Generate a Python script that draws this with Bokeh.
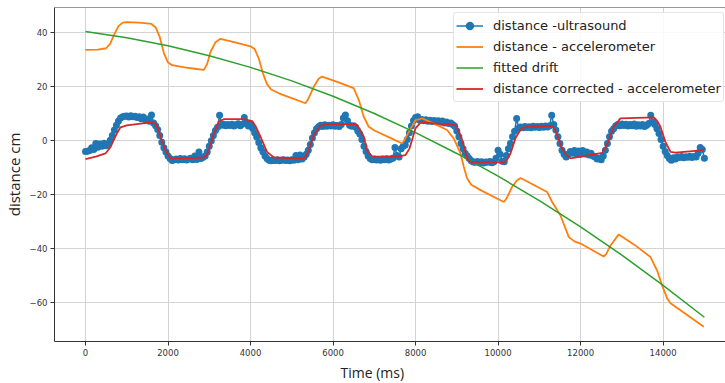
from bokeh.plotting import figure
from bokeh.models import Range1d, FixedTicker, Legend, LegendItem, Span, Title
from bokeh.embed import file_html
from bokeh.resources import INLINE

# ---------------- data ----------------
# ultrasound distance sampled every 50 ms
us_time = list(range(0, 15001, 50))
us_dist = [
    -4.0, -3.9, -3.6, -2.6, -3.2, -1.0, -2.4, -1.2, -2.0, -0.9, -1.8, -1.2, 0.2, 2.0, 4.0, 5.8,
    7.3, 8.4, 8.9, 9.1, 9.2, 8.8, 9.3, 8.9, 9.1, 8.6, 8.9, 8.2, 8.8, 7.8, 8.1, 7.2,
    9.6, 6.6, 5.6, 4.2, 2.0, -0.5, -2.6, -4.2, -5.6, -6.6, -7.3, -7.0, -6.8, -7.1, -6.6, -7.0,
    -6.7, -7.1, -6.8, -6.5, -7.0, -5.6, -6.9, -4.2, -6.6, -6.1, -5.6, -4.2, -2.0, 0.0, 2.0, 3.8,
    5.0, 9.5, 5.8, 6.1, 5.6, 6.0, 5.7, 6.1, 5.5, 5.9, 6.3, 5.6, 6.1, 8.6, 6.6, 5.5,
    6.1, 4.6, 3.0, 1.4, -0.6, -2.6, -4.1, -5.6, -6.6, -7.2, -7.4, -7.1, -7.3, -7.0, -7.4, -7.2,
    -7.0, -7.3, -7.1, -7.4, -7.0, -7.2, -5.5, -7.0, -5.3, -6.8, -6.0, -5.0, -3.5, -1.4, 1.0, 3.0,
    4.5, 5.2, 5.8, 5.3, 5.9, 5.4, 5.8, 5.5, 5.9, 5.4, 5.7, 5.3, 6.0, 8.4, 9.6, 7.4,
    5.8, 5.4, 5.6, 5.0, 3.6, 2.5, 0.5, -2.0, -4.0, -5.6, -6.6, -7.0, -6.8, -7.1, -6.9, -7.2,
    -6.8, -7.0, -6.7, -7.1, -6.8, -6.5, -2.5, -5.5, -6.0, -3.0, -2.0, -1.6, 0.5, 3.0, 5.5, 7.5,
    8.6, 8.9, 7.6, 7.9, 7.4, 7.8, 7.2, 7.6, 7.1, 7.5, 7.0, 7.4, 6.9, 7.3, 6.6, 7.0,
    6.4, 6.6, 6.0, 5.4, 3.6, 1.5, -1.0, -3.0, -4.6, -5.6, -6.6, -7.4, -7.9, -8.0, -7.7, -8.1,
    -7.8, -8.2, -7.9, -8.0, -7.7, -8.1, -7.8, -6.5, -3.5, -5.0, -7.6, -7.8, -5.5, -3.0, -1.0, 1.5,
    3.5, 8.3, 4.6, 5.1, 4.8, 5.3, 4.9, 5.2, 4.8, 5.4, 5.0, 5.3, 4.9, 5.4, 5.0, 5.5,
    5.1, 5.6, 9.5, 6.0, 4.0, 1.5, -1.0, -3.5, -5.0, -6.0, -5.0, -4.0, -4.6, -3.6, -4.8, -3.8,
    -5.0, -3.6, -4.9, -4.2, -5.3, -4.6, -5.6, -6.0, -6.8, -6.5, -7.0, -5.6, -3.5, -1.0, 1.5, 3.5,
    4.5, 5.5, 6.0, 5.6, 6.2, 5.7, 6.1, 5.5, 6.0, 5.6, 6.2, 5.4, 5.9, 5.5, 6.0, 5.3,
    5.8, 6.4, 9.5, 7.0, 6.0, 4.5, 2.7, 0.5, -2.0, -4.0, -5.5, -6.6, -7.2, -6.3, -6.8, -5.9,
    -6.2, -5.8, -6.3, -5.9, -6.1, -5.7, -6.2, -5.8, -6.0, -4.5, -2.5, -3.2, -6.5,
]

acc_time = [0, 300, 500, 600, 700, 800, 900, 1000, 1300, 1600, 1700, 1800, 1900, 2000, 2100,
            2400, 2700, 2870, 2950, 3030, 3150, 3270, 3600, 4000, 4100, 4200, 4300, 4400,
            4500, 4700, 5000, 5330, 5400, 5535, 5650, 5735, 6100, 6500, 6625, 6745, 6865,
            7000, 7400, 7675, 7720, 7795, 7900, 8000, 8160, 8500, 8765, 8925, 9090, 9170,
            9250, 9350, 9575, 10140, 10200, 10340, 10450, 10545, 11190, 11310, 11510,
            11715, 11850, 12000, 12560, 12620, 12725, 12925, 13300, 13695, 13855, 13975,
            14100, 14180, 14985]
acc_dist = [33.7, 33.8, 34.3, 36.0, 39.5, 42.5, 43.8, 44.0, 43.8, 43.3, 42.0, 38.5, 32.5, 29.0,
            28.0, 27.2, 26.6, 26.3, 28.5, 33.0, 36.5, 37.8, 36.6, 35.0, 34.0, 30.5, 25.0, 21.0,
            19.0, 17.5, 15.8, 13.9, 15.5, 20.1, 23.0, 23.8, 21.8, 19.5, 15.1, 8.9, 5.2,
            3.8, 1.0, -1.0, 0.0, 2.1, 5.0, 7.7, 8.3, 6.0, 4.0, 0.9, -4.7, -9.7,
            -14.0, -16.3, -18.3, -22.7, -21.5, -17.1, -14.8, -13.8, -19.0, -22.7, -27.6,
            -35.7, -37.3, -38.1, -42.9, -42.0, -38.8, -34.7, -38.5, -43.1, -48.1, -53.6,
            -58.5, -60.2, -68.9]

drift_time = [0, 1000, 2000, 3000, 4000, 5000, 6000, 7000, 8000, 9000, 10000, 11000, 12000,
              13000, 14000, 15000]
drift_dist = [40.5, 38.2, 35.2, 31.5, 27.2, 22.2, 16.5, 10.1, 3.0, -4.7, -13.1, -22.2, -31.9,
              -42.4, -53.6, -65.4]

corr_time = [0, 250, 485, 600, 686, 770, 848, 1000, 1535, 1700, 1760, 1820, 1940, 2060, 2500,
             2870, 2930, 2990, 3110, 3230, 3350, 3840, 4040, 4120, 4240, 4400, 4565, 5290,
             5350, 5410, 5530, 5695, 5815, 6545, 6640, 6745, 6825, 6950, 7555, 7755, 7850,
             7915, 7998, 8120, 8240, 8970, 9050, 9130, 9250, 9330, 10140, 10220, 10300,
             10420, 10545, 10665, 11310, 11370, 11430, 11550, 11640, 11755, 12525, 12600,
             12685, 12805, 12965, 13775, 13850, 13935, 14055, 14180, 14300, 14985]
corr_dist = [-6.8, -5.9, -4.7, -2.5, 0.3, 3.0, 5.0, 5.7, 6.7, 6.4, 4.5, 1.5, -3.5, -6.5, -6.4,
             -6.2, -5.5, -3.5, 2.7, 7.1, 8.0, 8.0, 7.3, 5.5, 1.5, -4.1, -6.2, -6.5,
             -5.5, -3.5, 2.1, 5.5, 6.2, 6.2, 4.5, 1.5, -3.5, -5.9, -5.9, -5.3, -3.0,
             0.3, 4.6, 6.7, 6.7, 5.8, 3.5, 0.3, -6.5, -7.8, -8.0, -7.0, -4.7,
             0.9, 4.2, 5.2, 5.5, 4.5, 2.1, -2.8, -5.0, -6.5, -4.5, -2.5,
             0.3, 5.2, 8.3, 8.7, 7.5, 5.2, -0.4, -4.1, -4.4, -3.5]

x_ticks = [0, 2000, 4000, 6000, 8000, 10000, 12000, 14000]
y_ticks = [-60, -40, -20, 0, 20, 40]
legend_labels = ["distance -ultrasound", "distance - accelerometer", "fitted drift",
                 "distance corrected - accelerometer"]

BLUE, ORANGE, GREEN, RED = "#1f77b4", "#ff7f0e", "#2ca02c", "#d62728"
TICK_FONT = "DejaVu Sans"

# ---------------- figure ----------------
p = figure(width=725, height=383, output_backend="svg", toolbar_location=None,
           x_range=Range1d(-751, 15512), y_range=Range1d(-74.4, 49.4),
           min_border_left=54, min_border_right=0, min_border_top=7, min_border_bottom=42)
p.outline_line_color = None
p.background_fill_color = "white"
p.border_fill_color = "white"

for ax in (p.xaxis[0], p.yaxis[0]):
    ax.axis_line_color = "#333333"
    ax.axis_line_width = 1
    ax.major_tick_line_color = "#333333"
    ax.major_tick_out = 4
    ax.major_tick_in = 0
    ax.minor_tick_line_color = None
    ax.major_label_text_font = TICK_FONT
    ax.major_label_text_font_size = "8.5px"
    ax.major_label_text_color = "#333333"
    ax.major_label_standoff = 3

p.xaxis.ticker = FixedTicker(ticks=x_ticks)
p.yaxis.ticker = FixedTicker(ticks=y_ticks)
p.yaxis.major_label_overrides = {v: (str(v).replace("-", "\u2212")) for v in y_ticks}

p.yaxis.axis_label = "distance cm"
p.yaxis.axis_label_text_font = "Open Sans"
p.yaxis.axis_label_text_font_size = "15px"
p.yaxis.axis_label_text_font_style = "normal"
p.yaxis.axis_label_text_color = "#222222"
p.yaxis.axis_label_standoff = 3

p.xgrid.ticker = FixedTicker(ticks=x_ticks)
p.ygrid.ticker = FixedTicker(ticks=y_ticks)
p.grid.grid_line_color = "#d3d3d3"
p.grid.grid_line_width = 1

# top spine
p.add_layout(Span(location=49.4, dimension="width", line_color="#333333", line_width=1))

# ---------------- data glyphs ----------------
us_line = p.line(us_time, us_dist, line_color=BLUE, line_width=1.5)
us_small = p.scatter(us_time, us_dist, size=4.5, fill_color=BLUE, line_color=BLUE, line_width=0)
us_pts = p.scatter(us_time, us_dist, size=7, fill_color=BLUE, line_color=BLUE, line_width=0)
acc_line = p.line(acc_time, acc_dist, line_color=ORANGE, line_width=1.8)
drift_line = p.line(drift_time, drift_dist, line_color=GREEN, line_width=1.5)
corr_line = p.line(corr_time, corr_dist, line_color=RED, line_width=1.8)

legend = Legend(items=[
    LegendItem(label=legend_labels[0], renderers=[us_line, us_small]),
    LegendItem(label=legend_labels[1], renderers=[acc_line]),
    LegendItem(label=legend_labels[2], renderers=[drift_line]),
    LegendItem(label=legend_labels[3], renderers=[corr_line]),
], location=(399, 239))
legend.label_text_font = TICK_FONT
legend.label_text_font_size = "13px"
legend.label_text_color = "#222222"
legend.label_height = 21
legend.glyph_height = 21
legend.glyph_width = 27
legend.label_standoff = 10
legend.spacing = 0
legend.padding = 2
legend.margin = 0
legend.border_line_color = "#cccccc"
legend.border_line_width = 1
legend.background_fill_alpha = 0.85
legend.border_radius = 3
p.add_layout(legend)

# x axis title, placed below the axis and offset left as in the reference
x_title = Title(text="Time (ms)", align="left", offset=286, standoff=4,
                text_font="Open Sans", text_font_size="14px", text_font_style="normal",
                text_color="#222222")
p.add_layout(x_title, "below")

open("out.html", "w").write(file_html(p, INLINE))
